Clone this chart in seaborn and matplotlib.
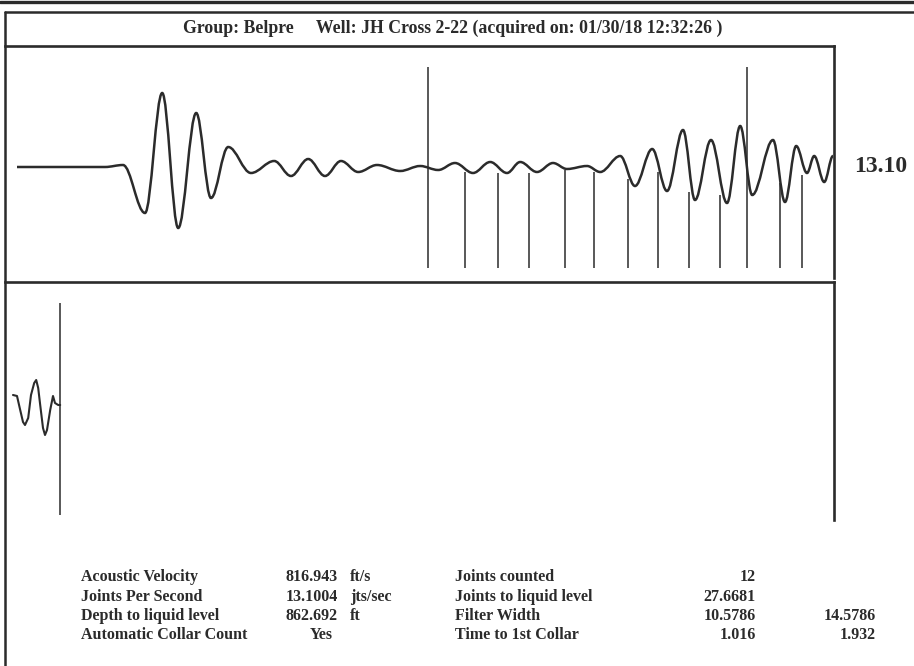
import numpy as np
import pandas as pd
import seaborn as sns
import matplotlib.pyplot as plt
from matplotlib.path import Path
from matplotlib.patches import PathPatch
from matplotlib.lines import Line2D

# acoustic shot, upper trace: extrema (time s, amplitude)
shot_time = [0.030, 0.250, 0.295, 0.350, 0.393, 0.433, 0.478, 0.515, 0.558, 0.615,
             0.673, 0.715, 0.758, 0.800, 0.840, 0.883, 0.930, 0.988, 1.038, 1.083,
             1.125, 1.170, 1.213, 1.255, 1.288, 1.330, 1.370, 1.405, 1.455, 1.488,
             1.538, 1.575, 1.618, 1.655, 1.695, 1.725, 1.765, 1.805, 1.838, 1.868,
             1.920, 1.950, 1.978, 2.005, 2.023, 2.048, 2.070]
shot_amp = [0, 0, 2, -46, 74, -61, 54, -31, 20, -6,
            6, -9, 8, -9, 6, -5, 2, -4, 1, -3,
            4, -6, 5, -6, 5, -5, 4, -2, 1, -5,
            11, -19, 18, -24, 37, -33, 27, -36, 41, -28,
            27, -35, 21, -6, 11, -15, 11]

# collar markers
marker_time = [1.058, 1.855]
collar_time = [1.150, 1.233, 1.310, 1.400, 1.473, 1.558, 1.633, 1.710, 1.788, 1.938, 1.993]
collar_top = [-5, -6, -6, -3, -5, -12, -5, -25, -28, -16, -8]

# lower trace (liquid level echo)
echo_time = [0.020, 0.030, 0.038, 0.045, 0.050, 0.058, 0.065, 0.073, 0.078, 0.083,
             0.088, 0.095, 0.100, 0.105, 0.113, 0.120, 0.125, 0.133, 0.138]
echo_amp = [10, 9, -5, -17, -20, -13, 10, 22, 25, 17,
            0, -23, -30, -25, -5, 9, 2, 0, 0]
echo_marker = 0.138

title = "Group: Belpre     Well: JH Cross 2-22 (acquired on: 01/30/18 12:32:26 )"
jps_label = "13.10"

left_names = ["Acoustic Velocity", "Joints Per Second", "Depth to liquid level", "Automatic Collar Count"]
left_values = ["816.943", "13.1004", "862.692", "Yes"]
left_units = ["ft/s", "jts/sec", "ft", ""]
right_names = ["Joints counted", "Joints to liquid level", "Filter Width", "Time to 1st Collar"]
right_val1 = ["12", "27.6681", "10.5786", "1.016"]
right_val2 = ["", "", "14.5786", "1.932"]

sns.set_theme(style="white")
plt.rcParams['font.family'] = ['Liberation Serif', 'DejaVu Serif']

ink = '#2b2b2b'
W, H = 914, 666

fig = plt.figure(figsize=(9.14, 6.66), dpi=100)


def box(x0, y0, x1, y1):
    return [x0 / W, 1 - y1 / H, (x1 - x0) / W, (y1 - y0) / H]


def fline(xs, ys, lw):
    fig.add_artist(Line2D([x / W for x in xs], [1 - y / H for y in ys],
                          transform=fig.transFigure, color=ink, lw=lw))


# outer frame
fline([0, 914], [2, 2], 2.4)
fline([5, 914], [12, 12], 1.8)
fline([5, 5], [12, 666], 1.8)

# upper panel
ax = fig.add_axes(box(5, 46, 834, 278))
ax.set_xlim(0, 2.0725)
ax.set_ylim(-111, 121)

verts = [(shot_time[0], shot_amp[0])]
codes = [Path.MOVETO]
k = 0.36
for i in range(1, len(shot_time)):
    x0, y0 = shot_time[i - 1], shot_amp[i - 1]
    x1, y1 = shot_time[i], shot_amp[i]
    dx = x1 - x0
    verts += [(x0 + k * dx, y0), (x1 - k * dx, y1), (x1, y1)]
    codes += [Path.CURVE4] * 3
ax.add_patch(PathPatch(Path(verts, codes), facecolor='none', edgecolor=ink, lw=1.8))

ax.vlines(marker_time, -101, 100, color=ink, lw=1.1)
ax.vlines(collar_time, -101, collar_top, color=ink, lw=1.1)

for s in ['left', 'bottom']:
    ax.spines[s].set_visible(False)
for s in ['top', 'right']:
    ax.spines[s].set_color(ink)
    ax.spines[s].set_linewidth(1.9)
ax.set_xticks([])
ax.set_yticks([])

# lower panel
ax2 = fig.add_axes(box(5, 282, 834, 520))
ax2.set_xlim(0, 2.0725)
ax2.set_ylim(-115, 123)
echo = pd.DataFrame({'t': echo_time, 'a': echo_amp})
sns.lineplot(data=echo, x='t', y='a', ax=ax2, color=ink, lw=1.5)
ax2.vlines([echo_marker], -110, 102, color=ink, lw=1.1)
for s in ['left', 'bottom']:
    ax2.spines[s].set_visible(False)
for s in ['top', 'right']:
    ax2.spines[s].set_color(ink)
    ax2.spines[s].set_linewidth(1.9)
ax2.set_xticks([])
ax2.set_yticks([])
ax2.set_xlabel('')
ax2.set_ylabel('')

# texts
fig.text(453 / W, 1 - 28 / H, title, ha='center', va='center', fontsize=12.8,
         fontweight='bold', color=ink)
fig.text(881 / W, 1 - 167 / H, jps_label, ha='center', va='center', fontsize=17,
         fontweight='bold', color=ink)

row_y = [577, 597, 616, 635]
tk = dict(va='center', fontsize=11.5, fontweight='bold', color=ink)
for i, y in enumerate(row_y):
    yy = 1 - y / H
    fig.text(81 / W, yy, left_names[i], ha='left', **tk)
    if left_values[i] == "Yes":
        fig.text(321 / W, yy, left_values[i], ha='center', **tk)
    else:
        fig.text(338 / W, yy, left_values[i], ha='right', **tk)
    fig.text(350 / W, yy, left_units[i], ha='left', **tk)
    fig.text(455 / W, yy, right_names[i], ha='left', **tk)
    fig.text(756 / W, yy, right_val1[i], ha='right', **tk)
    fig.text(876 / W, yy, right_val2[i], ha='right', **tk)

fig.savefig('out.png', dpi=100)
